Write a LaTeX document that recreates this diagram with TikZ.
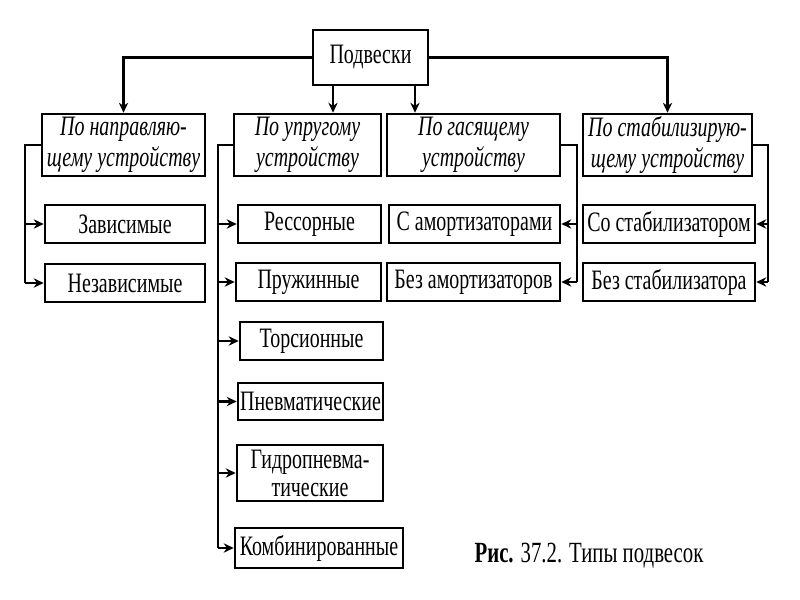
\documentclass[tikz,border=0pt]{standalone}
\usepackage{fontspec}
\setmainfont{Liberation Serif}[FakeStretch=0.71]
\usepackage{tikz}
\usetikzlibrary{arrows.meta}

\begin{document}
\begin{tikzpicture}[x=0.3mm,y=-0.3mm,
  box/.style={draw, line width=2.2pt, inner sep=0pt, minimum height=38*0.3mm, align=center, font=\fontsize{24}{27}\selectfont},
  head/.style={box, minimum height=62*0.3mm, font=\fontsize{24}{27}\selectfont\itshape},
  link/.style={line width=2pt},
  arr/.style={link, -{Stealth[length=3mm,width=2.8mm]}}]
     \useasboundingbox (0,0) rectangle (800,600);

     \node[box, minimum width=115*0.3mm, minimum height=55*0.3mm] (susp) at (370.5,57.5) {Подвески};

     \node[head, minimum width=163*0.3mm] (dir) at (123.5,145) {По направляю-\\щему устройству};
     \node[head, minimum width=147*0.3mm] (elas) at (307.5,145) {По упругому\\устройству};
     \node[head, minimum width=173*0.3mm] (damp) at (473.5,145) {По гасящему\\устройству};
     \node[head, minimum width=169*0.3mm] (stab) at (667.5,145) {По стабилизирую-\\щему устройству};

     \node[box, minimum width=160*0.3mm] (dep) at (125,224) {Зависимые};
     \node[box, minimum width=160*0.3mm] (indep) at (125,283) {Независимые};

     \node[box, minimum width=143*0.3mm] (leaf) at (309.5,224) {Рессорные};
     \node[box, minimum width=145*0.3mm] (coil) at (308.5,282) {Пружинные};
     \node[box, minimum width=143*0.3mm] (tors) at (311.5,341) {Торсионные};
     \node[box, minimum width=145*0.3mm, minimum height=37*0.3mm] (pneu) at (310.5,401.5) {Пневматические};
     \node[box, minimum width=146*0.3mm, minimum height=56*0.3mm, font=\fontsize{24}{24}\selectfont] (hydro) at (310,473) {Гидропневма-\\тические};
     \node[box, minimum width=168*0.3mm, minimum height=40*0.3mm] (comb) at (319,548) {Комбинированные};

     \node[box, minimum width=171*0.3mm] (withdamp) at (474.5,224) {С амортизаторами};
     \node[box, minimum width=173*0.3mm] (nodamp) at (473.5,282) {Без амортизаторов};
     \node[box, minimum width=172*0.3mm] (withstab) at (669,224) {Со стабилизатором};
     \node[box, minimum width=172*0.3mm] (nostab) at (669,282) {Без стабилизатора};

     \node[anchor=base, font=\fontsize{25}{27}\selectfont] (caption) at (589,562) {\textbf{Рис.} 37.2. Типы подвесок};

     \coordinate (lA) at (25,0);
     \coordinate (lB) at (218,0);
     \coordinate (lC) at (577,0);
     \coordinate (lD) at (768,0);
     \coordinate (dB) at (333,0);
     \coordinate (dC) at (415,0);

     \draw[arr] (susp.west) -| (dir.north);
     \draw[arr] (susp.east) -| (stab.north);
     \draw[arr] (susp.south -| dB) -- (elas.north -| dB);
     \draw[arr] (susp.south -| dC) -- (damp.north -| dC);

     \draw[link] (dir.west) -- (dir.west -| lA) -- (indep.west -| lA);
     \foreach \n in {dep,indep}
        \draw[arr] (\n.west -| lA) -- (\n.west);

     \draw[link] (elas.west) -- (elas.west -| lB) -- (comb.west -| lB);
     \foreach \n in {leaf,coil,tors,pneu,hydro,comb}
        \draw[arr] (\n.west -| lB) -- (\n.west);

     \draw[link] (damp.east) -- (damp.east -| lC) -- (nodamp.east -| lC);
     \foreach \n in {withdamp,nodamp}
        \draw[arr] (\n.east -| lC) -- (\n.east);

     \draw[link] (stab.east) -- (stab.east -| lD) -- (nostab.east -| lD);
     \foreach \n in {withstab,nostab}
        \draw[arr] (\n.east -| lD) -- (\n.east);
\end{tikzpicture}
\end{document}
